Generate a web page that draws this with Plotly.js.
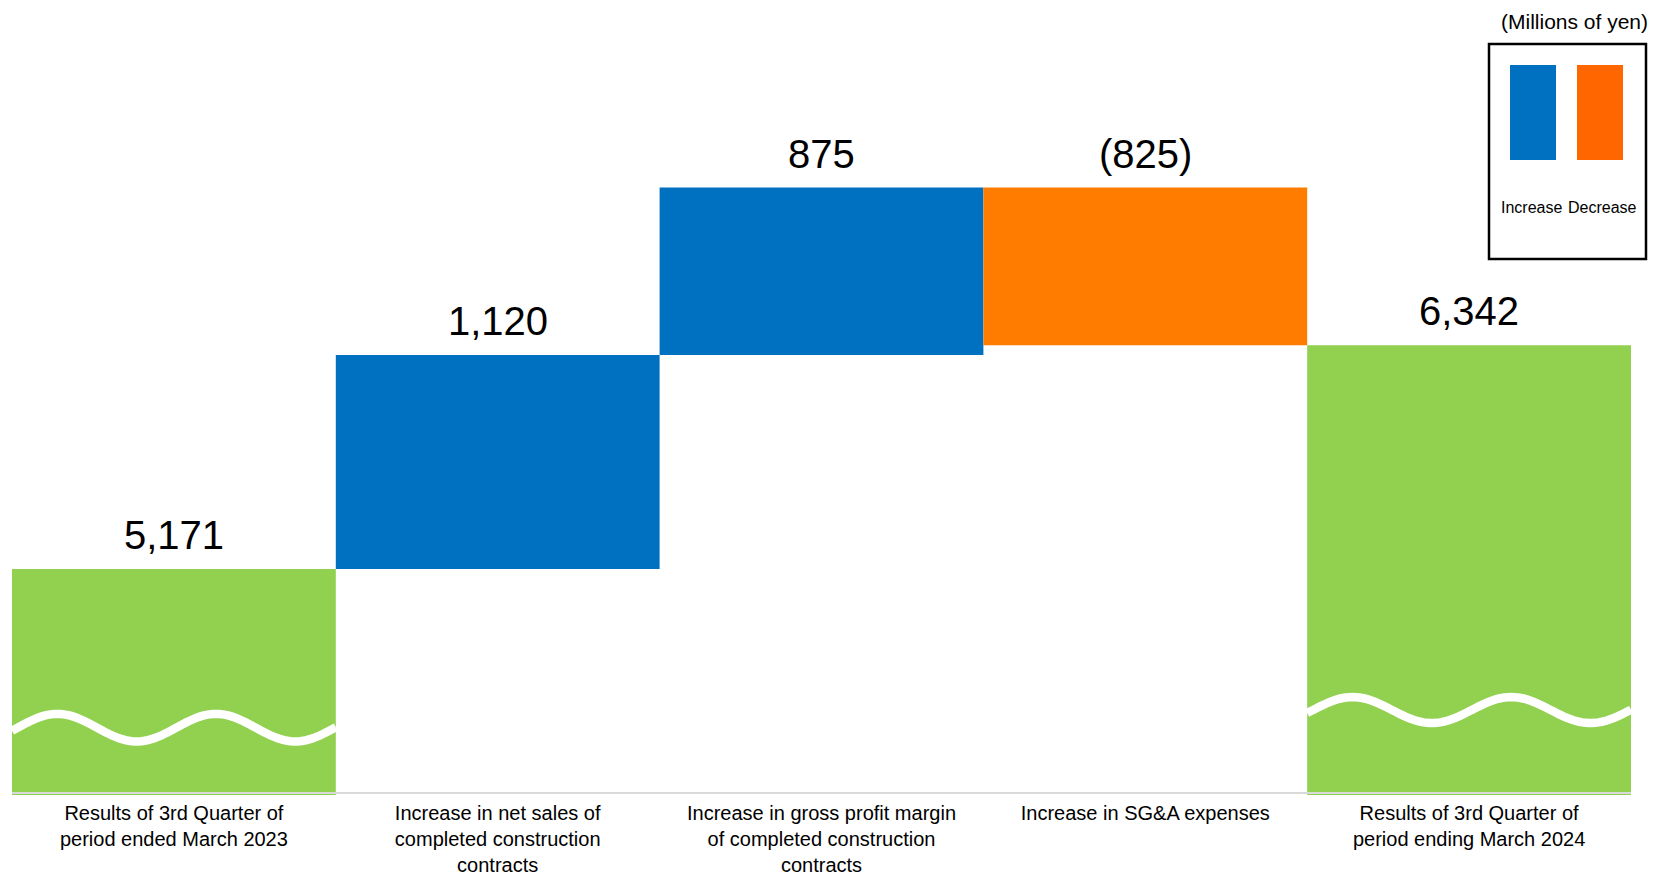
<!DOCTYPE html>
<html>
<head>
<meta charset="utf-8">
<script src="https://cdn.plot.ly/plotly-3.0.1.min.js"></script>
<style>
  html, body { margin: 0; padding: 0; background: #ffffff; }
  #chart { width: 1653px; height: 878px; }
</style>
</head>
<body>
<div id="chart"></div>
<script>
// ---------------- data ----------------
const categories = [
  "Results of 3rd Quarter of<br>period ended March 2023",
  "Increase in net sales of<br>completed construction<br>contracts",
  "Increase in gross profit margin<br>of completed construction<br>contracts",
  "Increase in SG&amp;A expenses",
  "Results of 3rd Quarter of<br>period ending March 2024"
];
const measures = ["absolute", "relative", "relative", "relative", "absolute"];
const values = [5171, 1120, 875, -825, 6342];
const valueLabels = ["5,171", "1,120", "875", "(825)", "6,342"];
const legendLabels = ["Increase", "Decrease"];
const unitLabel = "(Millions of yen)";

// ---------------- styles / layout ----------------
const FONT = "Liberation Sans, Arial, Helvetica, sans-serif";
const W = 1653, H = 878;
const M = { l: 12, r: 22, t: 28, b: 83 };
const plotW = W - M.l - M.r, plotH = H - M.t - M.b;
const px2x = px => (px - M.l) / plotW;           // pixel -> paper x
const px2y = py => (H - M.b - py) / plotH;       // pixel -> paper y

const COL_UP = "#0070C0", COL_DOWN = "#FF7C00", COL_TOTAL = "#92D050";
const LEG_UP = "#0070C0", LEG_DOWN = "#FF6600";

const xs = categories.map((_, i) => i);

// top of every bar (from the running total), for the value labels
let running = 0;
const tops = values.map((v, i) => {
  let start, end;
  if (measures[i] === "absolute") { start = 0; end = v; running = v; }
  else { start = running; end = running + v; running = end; }
  return Math.max(start, end);
});

const trace = {
  type: "waterfall",
  x: xs,
  y: values,
  measure: measures,
  textinfo: "none",
  hoverinfo: "skip",
  connector: { visible: false },
  increasing: { marker: { color: COL_UP, line: { width: 0 } } },
  decreasing: { marker: { color: COL_DOWN, line: { width: 0 } } },
  totals: { marker: { color: COL_TOTAL, line: { width: 0 } } }
};

// axis break decoration (wavy white line) across the two result bars
function wavePath(center, yc, amp) {
  const period = 0.49, start = center - 0.5, ph = start + 0.0175;
  let d = "";
  for (let k = 0; k <= 100; k++) {
    const x = start + k / 100;
    const y = yc + amp * Math.sin(2 * Math.PI * (x - ph) / period);
    d += (k === 0 ? "M " : " L ") + x.toFixed(4) + "," + y.toFixed(2);
  }
  return d;
}

const shapes = [
  // base line
  { type: "line", xref: "paper", yref: "y", x0: 0, x1: 1, y0: 4000, y1: 4000,
    line: { color: "#D9D9D9", width: 2 }, layer: "above" },
  { type: "path", xref: "x", yref: "y", path: wavePath(0, 4342, 72),
    line: { color: "#ffffff", width: 8.5 }, layer: "above" },
  { type: "path", xref: "x", yref: "y", path: wavePath(4, 4434, 68),
    line: { color: "#ffffff", width: 8.5 }, layer: "above" },
  // legend box
  { type: "rect", xref: "paper", yref: "paper",
    x0: px2x(1489), x1: px2x(1646), y0: px2y(259), y1: px2y(44),
    line: { color: "#000000", width: 2.5 }, fillcolor: "rgba(0,0,0,0)" },
  { type: "rect", xref: "paper", yref: "paper",
    x0: px2x(1510), x1: px2x(1556), y0: px2y(160), y1: px2y(65),
    line: { width: 0 }, fillcolor: LEG_UP },
  { type: "rect", xref: "paper", yref: "paper",
    x0: px2x(1577), x1: px2x(1623), y0: px2y(160), y1: px2y(65),
    line: { width: 0 }, fillcolor: LEG_DOWN }
];

const annotations = xs.map((x, i) => ({
  x: x, y: tops[i], xref: "x", yref: "y",
  text: valueLabels[i], showarrow: false,
  xanchor: "center", yanchor: "bottom", yshift: 10,
  font: { family: FONT, size: 40, color: "#000000" }
}));
annotations.push(
  { x: px2x(1531), y: px2y(208), xref: "paper", yref: "paper", text: legendLabels[0],
    showarrow: false, xanchor: "center", yanchor: "middle",
    font: { family: FONT, size: 16, color: "#000000" } },
  { x: px2x(1602.5), y: px2y(208), xref: "paper", yref: "paper", text: legendLabels[1],
    showarrow: false, xanchor: "center", yanchor: "middle",
    font: { family: FONT, size: 16, color: "#000000" } },
  { x: px2x(1650), y: px2y(21), xref: "paper", yref: "paper", text: unitLabel,
    showarrow: false, xanchor: "right", yanchor: "middle",
    font: { family: FONT, size: 21, color: "#000000" } }
);

const layout = {
  width: W, height: H,
  margin: M,
  paper_bgcolor: "#ffffff", plot_bgcolor: "#ffffff",
  showlegend: false,
  waterfallgap: 0,
  font: { family: FONT, color: "#000000" },
  xaxis: {
    type: "linear", range: [-0.5, 4.5],
    tickmode: "array", tickvals: xs, ticktext: categories,
    showgrid: false, zeroline: false, showline: false, ticks: "",
    ticklabelstandoff: 4,
    tickfont: { family: FONT, size: 20, color: "#000000" },
    fixedrange: true
  },
  yaxis: {
    range: [3990, 8000], visible: false, showgrid: false, zeroline: false,
    fixedrange: true
  },
  shapes: shapes,
  annotations: annotations
};

Plotly.newPlot("chart", [trace], layout, { displayModeBar: false, staticPlot: true });
</script>
</body>
</html>
